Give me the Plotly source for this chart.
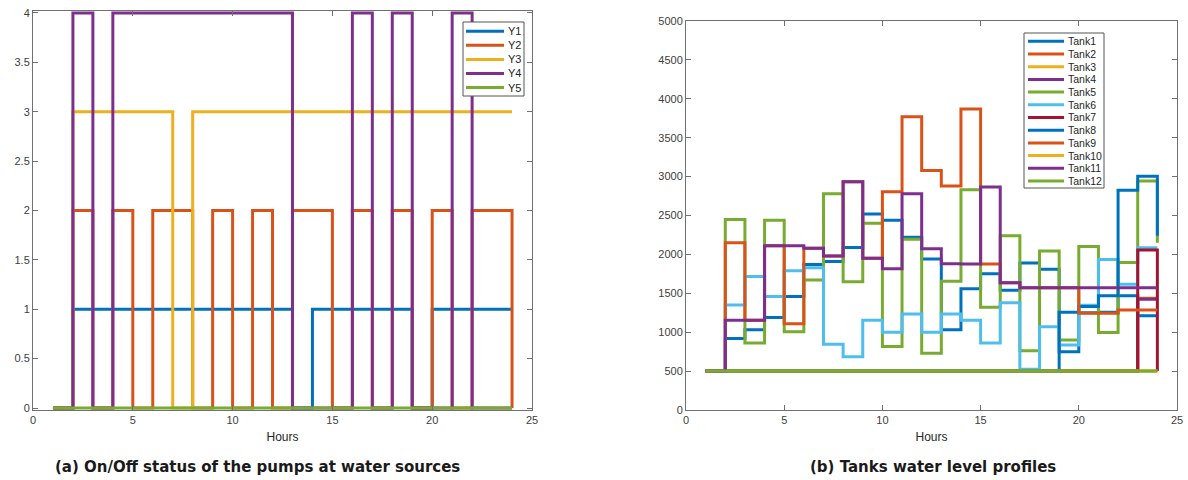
import plotly.graph_objects as go

W, H = 1188, 480

# ---------------- data ----------------
hours = list(range(1, 25))

pump_names = ["Y1", "Y2", "Y3", "Y4", "Y5"]
# on/off status (1 = on); plotted as status * pump index
Y1 = [0, 1, 1, 1, 1, 1, 1, 1, 1, 1, 1, 1, 0, 1, 1, 1, 1, 1, 0, 1, 1, 1, 1, 1]
Y2 = [0, 1, 0, 1, 0, 1, 1, 0, 1, 0, 1, 0, 1, 1, 0, 1, 0, 1, 0, 1, 0, 1, 1, 0]
Y3 = [0, 1, 1, 1, 1, 1, 0, 1, 1, 1, 1, 1, 1, 1, 1, 1, 1, 1, 1, 1, 1, 1, 1, 1]
Y4 = [0, 1, 0, 1, 1, 1, 1, 1, 1, 1, 1, 1, 0, 0, 0, 1, 0, 1, 0, 0, 1, 0, 0, 0]
Y5 = [0] * 24
pumps = [Y1, Y2, Y3, Y4, Y5]

tank_names = ["Tank1", "Tank2", "Tank3", "Tank4", "Tank5", "Tank6",
              "Tank7", "Tank8", "Tank9", "Tank10", "Tank11", "Tank12"]
Tank1 = [500, 920, 1030, 1190, 1460, 1870, 1910, 2090, 2520, 2440, 2220, 1940,
         1030, 1560, 1750, 1540, 1890, 1810, 750, 1250, 1255, 1470, 1210, 1210]
Tank2 = [500, 500, 500, 500, 500, 500, 500, 500, 500, 500, 500, 500,
         500, 500, 500, 500, 500, 500, 500, 500, 500, 500, 1435, 1435]
Tank3 = [500] * 24
Tank4 = [500, 500, 500, 500, 500, 500, 500, 500, 500, 500, 500, 500,
         500, 500, 500, 500, 500, 500, 500, 500, 500, 500, 1425, 1425]
Tank5 = [500, 2450, 860, 2440, 1005, 1670, 2780, 1650, 2400, 815, 2195, 730,
         1655, 2830, 1320, 2240, 760, 2045, 900, 2100, 995, 1895, 2945, 2150]
Tank6 = [500, 1350, 1715, 1460, 1790, 1830, 845, 685, 1155, 1000, 1235, 1000,
         1235, 1155, 860, 1380, 525, 1070, 835, 1345, 1935, 1615, 2085, 2085]
Tank7 = [500, 500, 500, 500, 500, 500, 500, 500, 500, 500, 500, 500,
         500, 500, 500, 500, 500, 500, 500, 500, 500, 500, 2055, 500]
Tank8 = [500, 500, 500, 500, 500, 500, 500, 500, 500, 500, 500, 500,
         500, 500, 500, 500, 500, 500, 1256, 1330, 1470, 2825, 3005, 2240]
Tank9 = [500, 2150, 1153, 2112, 1110, 2078, 1979, 2935, 1950, 2805, 3770, 3080,
         2880, 3870, 1877, 1636, 1572, 1572, 1572, 1243, 1243, 1285, 1285, 1285]
Tank10 = [500] * 24
Tank11 = [500, 1153, 1153, 2112, 2112, 2078, 1979, 2935, 1950, 1816, 2780, 2074,
          1881, 1877, 2866, 1636, 1572, 1572, 1572, 1572, 1572, 1572, 1572, 1572]
Tank12 = [500] * 24
tanks = [Tank1, Tank2, Tank3, Tank4, Tank5, Tank6,
         Tank7, Tank8, Tank9, Tank10, Tank11, Tank12]

pump_ticks = [0, 0.5, 1, 1.5, 2, 2.5, 3, 3.5, 4]
pump_tick_text = ["0", "0.5", "1", "1.5", "2", "2.5", "3", "3.5", "4"]

# ---------------- style ----------------
palette = ["#0072BD", "#D95319", "#EDB120", "#7E2F8E", "#77AC30", "#4DBEEE", "#A2142F"]
LW = 3
tick_font = dict(family="Liberation Sans, Arial, sans-serif", size=11, color="#404040")
axcol = "#707070"

fig = go.Figure()

for k, (name, status) in enumerate(zip(pump_names, pumps), start=1):
    fig.add_trace(go.Scatter(
        x=hours, y=[s * k for s in status], mode="lines", name=name,
        line=dict(shape="hv", color=palette[(k - 1) % 7], width=LW),
        xaxis="x", yaxis="y", showlegend=False))

for i, (name, lev) in enumerate(zip(tank_names, tanks)):
    fig.add_trace(go.Scatter(
        x=hours, y=lev, mode="lines", name=name,
        line=dict(shape="hv", color=palette[i % 7], width=LW),
        xaxis="x2", yaxis="y2", showlegend=False))


def px(x):
    return x / W


def py(y):
    return 1 - y / H


common = dict(showline=True, linecolor=axcol, linewidth=1, mirror="ticks",
              ticks="inside", ticklen=5, tickcolor=axcol, tickfont=tick_font,
              showgrid=False, zeroline=False, automargin=False)
title_font = dict(family="Liberation Sans, Arial, sans-serif", size=12, color="#262626")

fig.update_layout(
    width=W, height=H, margin=dict(l=0, r=0, t=0, b=0, autoexpand=False),
    paper_bgcolor="white", plot_bgcolor="white", showlegend=False,
    xaxis=dict(domain=[px(33), px(532)], range=[0, 25], dtick=5, anchor="y",
               title=dict(text="Hours", font=title_font, standoff=7), **common),
    yaxis=dict(domain=[py(410), py(11)], range=[-0.02, 4.02], tickvals=pump_ticks,
               ticktext=pump_tick_text, anchor="x", **common),
    xaxis2=dict(domain=[px(686), px(1177)], range=[0, 25], dtick=5, anchor="y2",
                title=dict(text="Hours", font=title_font, standoff=7), **common),
    yaxis2=dict(domain=[py(410), py(21)], range=[0, 5000], dtick=500, anchor="x2", **common),
)

shapes = []
annotations = []


def legend(names, box, y0, dy, x_line, x_text, fsize):
    x1, yb1, x2, yb2 = box
    shapes.append(dict(type="rect", xref="paper", yref="paper", layer="above",
                       x0=px(x1), x1=px(x2), y0=py(yb2), y1=py(yb1),
                       line=dict(color="#555555", width=1), fillcolor="white"))
    for i, nm in enumerate(names):
        yy = y0 + i * dy
        shapes.append(dict(type="line", xref="paper", yref="paper", layer="above",
                           x0=px(x_line[0]), x1=px(x_line[1]), y0=py(yy), y1=py(yy),
                           line=dict(color=palette[i % 7], width=LW)))
        annotations.append(dict(text=nm, xref="paper", yref="paper", x=px(x_text), y=py(yy),
                                xanchor="left", yanchor="middle", showarrow=False,
                                font=dict(family="Liberation Sans, Arial, sans-serif",
                                          size=fsize, color="#262626")))


legend(pump_names, (463, 22, 524, 96), 31.2, 14.1, (466, 504), 506, 11)
legend(tank_names, (1024, 33, 1104, 188), 41.3, 12.7, (1028, 1064), 1066, 10.5)

cap_font = dict(family="DejaVu Sans, sans-serif", size=15, color="#1a1a1a")
annotations.append(dict(text="<b>(a) On/Off status of the pumps at water sources</b>",
                        xref="paper", yref="paper", x=px(257), y=py(467),
                        xanchor="center", yanchor="middle", showarrow=False, font=cap_font))
annotations.append(dict(text="<b>(b) Tanks water level profiles</b>",
                        xref="paper", yref="paper", x=px(933), y=py(467),
                        xanchor="center", yanchor="middle", showarrow=False, font=cap_font))

fig.update_layout(shapes=shapes, annotations=annotations)

fig.write_html("out.html")
